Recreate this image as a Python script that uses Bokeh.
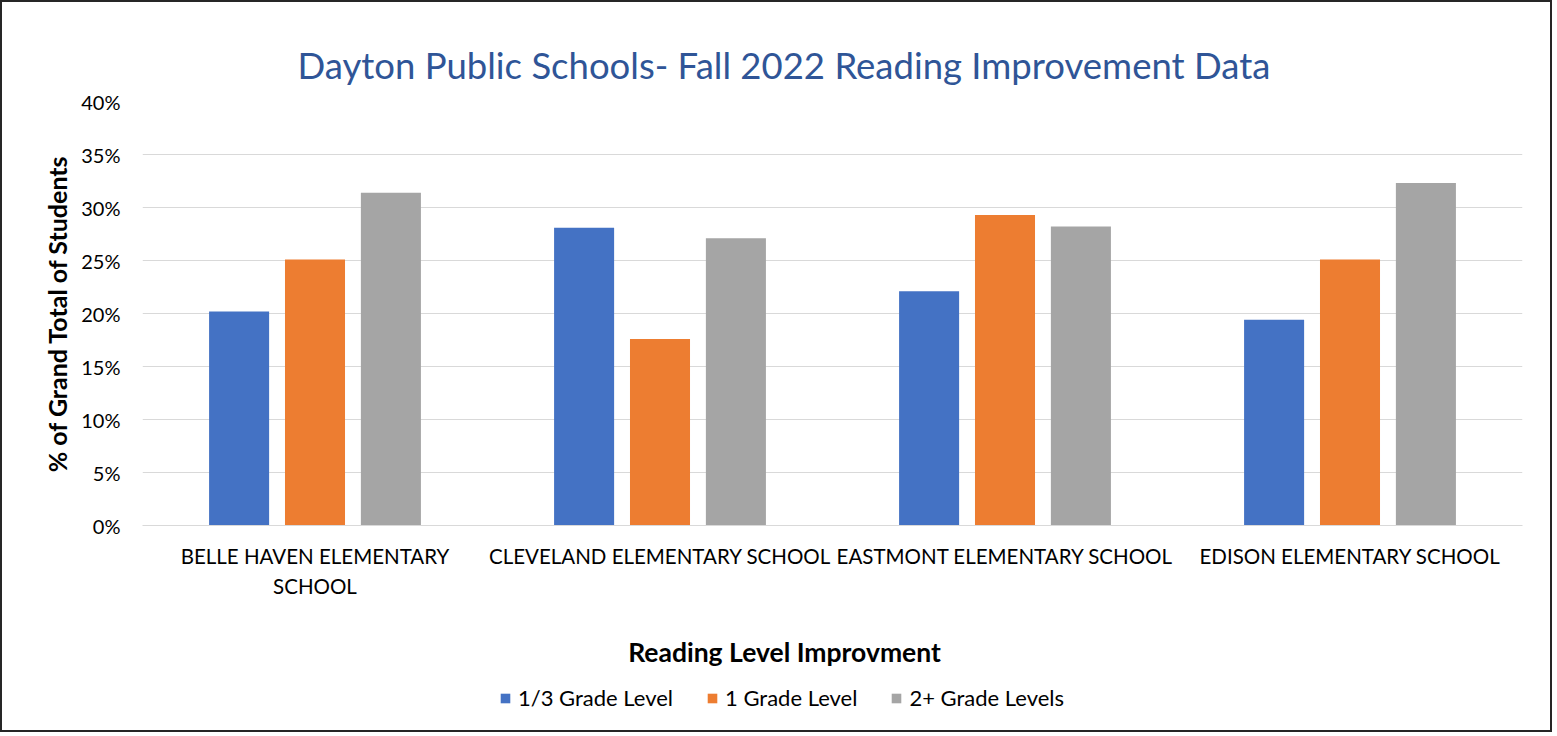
from bokeh.plotting import figure
from bokeh.layouts import column
from bokeh.models import (ColumnDataSource, FactorRange, Range1d, FixedTicker,
                          NumeralTickFormatter, Legend, LegendItem, Title, Label)
from bokeh.transform import dodge
from bokeh.embed import file_html
from bokeh.resources import INLINE

# ---- data ----
schools = ["BELLE HAVEN ELEMENTARY SCHOOL", "CLEVELAND ELEMENTARY SCHOOL",
           "EASTMONT ELEMENTARY SCHOOL", "EDISON ELEMENTARY SCHOOL"]
school_tick_labels = ["BELLE HAVEN ELEMENTARY\nSCHOOL", "CLEVELAND ELEMENTARY SCHOOL",
                      "EASTMONT ELEMENTARY SCHOOL", "EDISON ELEMENTARY SCHOOL"]
third_grade = [0.202, 0.281, 0.221, 0.194]
one_grade = [0.251, 0.176, 0.293, 0.251]
two_plus_grade = [0.314, 0.271, 0.282, 0.323]
series_names = ["1/3 Grade Level", "1 Grade Level", "2+ Grade Levels"]
y_ticks = [0.0, 0.05, 0.10, 0.15, 0.20, 0.25, 0.30, 0.35, 0.40]
title_text = "Dayton Public Schools- Fall 2022 Reading Improvement Data"
x_title = "Reading Level Improvment"
y_title = "% of Grand Total of Students"

colors = ["#4472C4", "#ED7D31", "#A5A5A5"]
FONT = "Lato"
TXT = "#000000"
fields = ["third", "one", "two"]
offsets = [-0.22, 0.0, 0.22]

source = ColumnDataSource(data=dict(school=school_tick_labels, name=schools,
                                    third=third_grade, one=one_grade,
                                    two=two_plus_grade))

# ---- main chart ----
p = figure(x_range=FactorRange(factors=school_tick_labels), y_range=Range1d(0, 0.40),
           frame_width=1380, frame_height=424, output_backend="svg", toolbar_location=None,
           min_border_left=140, min_border_right=28, min_border_top=99,
           min_border_bottom=80)
p.outline_line_color = None
p.background_fill_color = "white"
p.border_fill_color = "white"

p.title = Title(text=title_text, align="left", text_font=FONT,
                text_font_size="36.5px", text_font_style="normal",
                text_color="#2F5597", offset=155, standoff=30)

for field, off, col in zip(fields, offsets, colors):
    p.vbar(x=dodge("school", off, range=p.x_range), top=field, width=0.174,
           source=source, fill_color=col, line_color=None)

p.xgrid.grid_line_color = None
p.ygrid.grid_line_color = "#D9D9D9"
p.ygrid.grid_line_width = 1
p.ygrid.ticker = FixedTicker(ticks=y_ticks)

p.yaxis.ticker = FixedTicker(ticks=y_ticks)
p.yaxis.formatter = NumeralTickFormatter(format="0%")
p.yaxis.axis_line_color = None
p.yaxis.major_tick_line_color = None
p.yaxis.minor_tick_line_color = None
p.yaxis.major_label_text_font = FONT
p.yaxis.major_label_text_font_size = "20px"
p.yaxis.major_label_text_color = TXT
p.yaxis.major_label_standoff = 16
p.yaxis.axis_label = y_title
p.yaxis.axis_label_text_font = FONT
p.yaxis.axis_label_text_font_size = "25px"
p.yaxis.axis_label_text_font_style = "bold"
p.yaxis.axis_label_text_color = "#000000"
p.yaxis.axis_label_standoff = 6

p.xaxis.axis_line_color = "#D9D9D9"
p.xaxis.major_tick_line_color = None
p.xaxis.minor_tick_line_color = None
p.xaxis.major_label_text_font = FONT
p.xaxis.major_label_text_font_size = "20.5px"
p.xaxis.major_label_text_color = TXT
p.xaxis.major_label_standoff = 12
p.xaxis.major_label_text_line_height = 1.25

# ---- footer: x-axis title + legend ----
f = figure(x_range=FactorRange(factors=school_tick_labels), y_range=Range1d(0, 0.40),
           width=1548, height=125, output_backend="svg", toolbar_location=None,
           x_axis_location=None, y_axis_location=None,
           min_border_left=0, min_border_right=0, min_border_top=0, min_border_bottom=0)
f.outline_line_color = None
f.xgrid.grid_line_color = None
f.ygrid.grid_line_color = None
f.background_fill_color = "white"
f.border_fill_color = "white"

legend_renderers = []
for field, off, col in zip(fields, offsets, colors):
    r = f.vbar(x=dodge("school", off, range=f.x_range), top=field, width=0.174,
               source=source, fill_color=col, line_color=None, visible=False)
    legend_renderers.append(r)

f.add_layout(Label(x=642, y=79, x_units="screen", y_units="screen", text=x_title,
                   text_align="center", text_baseline="middle", text_font=FONT,
                   text_font_size="26.5px", text_font_style="bold",
                   text_color="#000000"))

legend = Legend(items=[LegendItem(label=n, renderers=[r])
                       for n, r in zip(series_names, legend_renderers)],
                orientation="horizontal", location=(357, 19), glyph_width=12,
                glyph_height=12, label_standoff=7, spacing=33, padding=0, margin=0,
                border_line_color=None, background_fill_alpha=0,
                inactive_fill_alpha=0,
                label_text_font=FONT, label_text_font_size="22px",
                label_text_color=TXT)
f.add_layout(legend, "center")

layout = column(p, f, spacing=0)
layout.styles = {"border": "2px solid #262626"}

open("out.html", "w").write(file_html(layout, INLINE))
